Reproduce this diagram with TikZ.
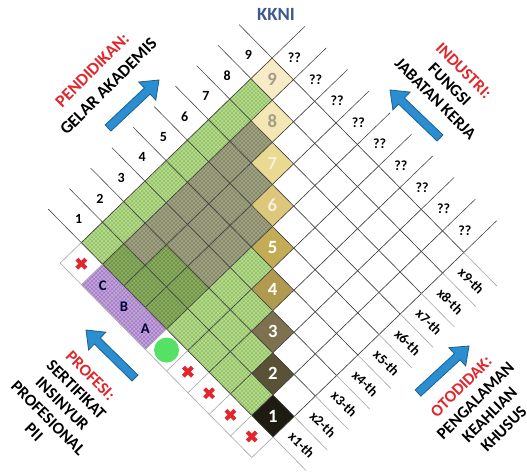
\documentclass[tikz,border=0pt]{standalone}
\usepackage{fontspec}
\setmainfont{Carlito}
\usetikzlibrary{calc,patterns}

\definecolor{titleblue}{HTML}{3D5A8C}
\definecolor{labred}{HTML}{E2262C}
\definecolor{arrowfill}{HTML}{2B8ED0}
\definecolor{arrowedge}{HTML}{1D5F8E}
\definecolor{lgreen}{HTML}{B7DD8E}
\definecolor{lgreenh}{HTML}{93BF68}
\definecolor{dgreen}{HTML}{8DB063}
\definecolor{dgreenh}{HTML}{6B9046}
\definecolor{olive}{HTML}{A4A683}
\definecolor{oliveh}{HTML}{82856A}
\definecolor{lilac}{HTML}{C7A5E0}
\definecolor{lilach}{HTML}{9F7CC2}
\definecolor{dotgreen}{HTML}{55E165}
\definecolor{lvA}{HTML}{1E1C12}
\definecolor{lvB}{HTML}{5A5236}
\definecolor{lvC}{HTML}{7D7150}
\definecolor{lvD}{HTML}{B09A50}
\definecolor{lvE}{HTML}{C4AC56}
\definecolor{lvF}{HTML}{DCC77A}
\definecolor{lvG}{HTML}{EAD990}
\definecolor{lvH}{HTML}{F3E7B3}
\definecolor{lvI}{HTML}{F8EBC6}
\definecolor{numpale}{HTML}{F6F0DC}
\definecolor{numgrey}{HTML}{A39C88}

\tikzset{
  cellL/.style={fill=lgreen,postaction={pattern=crosshatch,pattern color=lgreenh}},
  cellD/.style={fill=dgreen,postaction={pattern=crosshatch,pattern color=dgreenh}},
  cellG/.style={fill=olive,postaction={pattern=crosshatch,pattern color=oliveh}},
  cellP/.style={fill=lilac,postaction={pattern=crosshatch,pattern color=lilach}},
  gridline/.style={draw=black!75,line width=0.5pt},
  tickline/.style={draw=black!70,line width=0.45pt},
  faint/.style={draw=black!35,line width=0.45pt},
  lvl/.style={font=\fontsize{14}{14}\selectfont\bfseries,inner sep=0pt},
  edgelabel/.style={font=\fontsize{10.5}{12}\selectfont\bfseries,inner sep=0pt},
  thlabel/.style={font=\fontsize{10.5}{12}\selectfont\bfseries,rotate=-45,inner sep=0pt},
  cletter/.style={font=\fontsize{11}{12}\selectfont\bfseries,text=black!80!blue,inner sep=0pt},
  blockarrow/.style={fill=arrowfill,draw=arrowedge,line width=0.6pt,line join=miter},
  redx/.style={draw=labred,line width=3pt},
  caption/.style={align=center,font=\fontsize{12.5}{15}\selectfont\bfseries,text=black,inner sep=0pt},
}

% block arrow from tail #1 to tip #2
\newcommand\blockarrowpath[2]{%
  \coordinate (#1n) at ($(#1)!0.77!(#2)$);
  \path[blockarrow] ($(#1)!3.15pt!90:(#2)$) -- ($(#1n)!3.15pt!90:(#2)$)
    -- ($(#1n)!9.3pt!90:(#2)$) -- (#2) -- ($(#1n)!9.3pt!-90:(#2)$)
    -- ($(#1n)!3.15pt!-90:(#2)$) -- ($(#1)!3.15pt!-90:(#2)$) -- cycle;}

\begin{document}
\begin{tikzpicture}[x=0.75pt,y=0.75pt]
\useasboundingbox (0,-473) rectangle (527,0);
\fill[white] (0,-473) rectangle (527,0);

\begin{scope}[shift={(273,-437)},x={(15.9pt,15.375pt)},y={(-15.975pt,16.2pt)}]
  % cells left of the level column
  \foreach \i/\j/\s in {0/8/L,1/8/L,2/8/L,3/8/L,4/8/L,5/8/L,6/8/L,7/8/L,
      0/7/D,1/7/G,2/7/G,3/7/G,4/7/G,5/7/G,6/7/G,
      0/6/D,1/6/D,2/6/G,3/6/G,4/6/G,5/6/G,
      0/5/D,1/5/D,2/5/G,3/5/G,4/5/G,
      0/4/L,1/4/L,2/4/L,3/4/L,
      0/3/L,1/3/L,2/3/L,
      0/2/L,1/2/L,
      0/1/L}
    \path[cell\s] (\i,\j) -- ++(1,0) -- ++(0,1) -- ++(-1,0) -- cycle;
  % professional grades
  \foreach \j in {5,6,7}
    \path[cellP] (-1,\j) -- ++(1,0) -- ++(0,1) -- ++(-1,0) -- cycle;
  % level diamonds
  \foreach \k/\c in {1/lvA,2/lvB,3/lvC,4/lvD,5/lvE,6/lvF,7/lvG,8/lvH,9/lvI}
    \path[fill=\c] (\k-1,\k-1) -- (\k,\k-1) -- (\k,\k) -- (\k-1,\k) -- cycle;
  % grid
  \foreach \k in {0,...,9} {
    \draw[gridline] (\k,0) -- (\k,9);
    \draw[gridline] (0,\k) -- (9,\k);
    \draw[tickline] (\k,9) -- (\k,10.55);
    \draw[tickline] (9,\k) -- (10.55,\k);
    \draw[faint] (\k,0) -- (\k,-1.55);
    \draw[faint] (-1,\k) -- (0,\k);
  }
  \draw[faint] (-1,0) -- (-1,9);
  % level numbers
  \foreach \k/\t in {1/white,2/white,3/white,4/white,5/white,6/numpale,7/numpale,8/numgrey,9/numgrey}
    \node[lvl,text=\t] (lev\k) at (\k-0.5,\k-0.5) {\k};
  % edge labels
  \foreach \k in {1,...,9}
    \node[edgelabel] (top\k) at (\k-0.5,9.62) {\k};
  \foreach \k in {0,...,8}
    \node[edgelabel] (q\k) at (9.55,\k+0.5) {??};
  \foreach \k in {1,...,9}
    \node[thlabel] (th\k) at (\k-0.5,-0.85) {x\k-th};
  % professional grade letters and markers
  \node[cletter] (ga) at (-0.5,5.5) {A};
  \node[cletter] (gb) at (-0.5,6.5) {B};
  \node[cletter] (gc) at (-0.5,7.5) {C};
  \foreach \j in {0,1,2,3,8}
    \coordinate (rx\j) at (-0.5,\j+0.5);
  \coordinate (dotc) at (-0.5,4.5);
\end{scope}

% crosses and dot
\foreach \j in {0,1,2,3,8} {
  \draw[redx] ([shift={(-4.5,-4.5)}]rx\j) -- ([shift={(4.5,4.5)}]rx\j);
  \draw[redx] ([shift={(-4.5,4.5)}]rx\j) -- ([shift={(4.5,-4.5)}]rx\j);
}
\fill[dotgreen] (dotc) circle[radius=12.5];

% title
\node[font=\fontsize{14}{14}\selectfont\bfseries,text=titleblue] (title) at (276,-14) {KKNI};

% pathway arrows
\coordinate (ul) at (108,-128); \coordinate (ulh) at (159,-80);
\coordinate (ur) at (440,-138); \coordinate (urh) at (390,-90);
\coordinate (ll) at (135,-378); \coordinate (llh) at (86,-330);
\coordinate (lr) at (418,-393); \coordinate (lrh) at (469,-346);
\blockarrowpath{ul}{ulh}
\blockarrowpath{ur}{urh}
\blockarrowpath{ll}{llh}
\blockarrowpath{lr}{lrh}

% pathway captions
\node[caption,rotate=45,font=\fontsize{13}{17.25}\selectfont\bfseries] (edu) at (100.4,-78.3)
  {\textcolor{labred}{PENDIDIKAN:}\\GELAR AKADEMIS};
\node[caption,rotate=-45] (ind) at (449.7,-84.7)
  {\textcolor{labred}{INDUSTRI:}\\FUNGSI\\JABATAN KERJA};
\node[caption,rotate=-45] (pro) at (62.3,-403.8)
  {\textcolor{labred}{PROFESI:}\\SERTIFIKAT\\INSINYUR\\PROFESIONAL\\PII};
\node[caption,rotate=45] (oto) at (482.5,-407.7)
  {\textcolor{labred}{OTODIDAK:}\\PENGALAMAN\\KEAHLIAN\\KHUSUS};
\end{tikzpicture}
\end{document}
